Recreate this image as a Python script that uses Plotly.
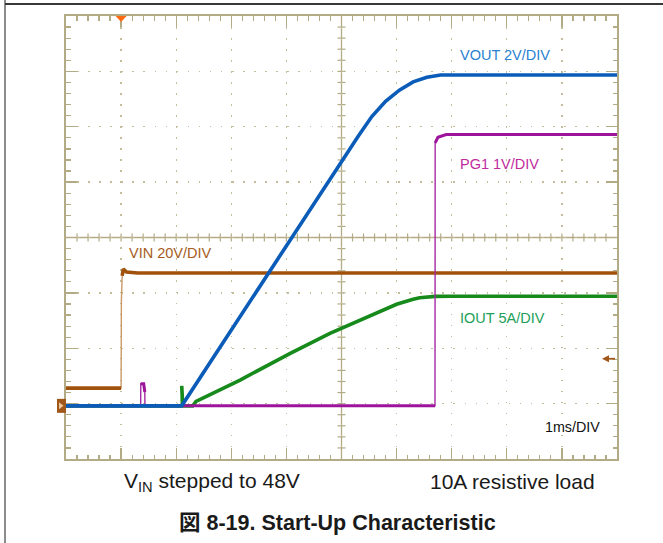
import plotly.graph_objects as go

# ---------------- data (time in ms, 1 ms/DIV) ----------------
ground_div = 0.96          # channel ground reference, in divisions from bottom
trigger_t = 1.0            # trigger position (ms)
trigger_level_v = 17.0     # VIN trigger level (V)

vin_scale = 20.0           # V/DIV
vin_t = [0.0, 1.0, 1.005, 1.02, 1.04, 1.10, 1.30, 10.0]
vin_v = [6.4, 6.4, 38.0, 47.0, 49.4, 48.3, 48.0, 48.0]

iout_scale = 5.0           # A/DIV
iout_t = [0.0, 2.09, 2.10, 2.12, 2.30, 2.36, 3.16, 4.07, 4.79, 5.09, 5.40,
          5.70, 6.00, 6.30, 6.42, 6.70, 7.00, 10.0]
iout_a = [0.0, 0.0, 1.8, 0.0, 0.0, 0.4, 2.33, 4.74, 6.55, 7.21, 7.84,
          8.56, 9.17, 9.62, 9.76, 9.88, 9.90, 9.90]

pg_scale = 1.0             # V/DIV
pg_t = [0.0, 1.355, 1.357, 1.41, 1.43, 1.433, 6.697, 6.70, 6.75, 6.90, 10.0]
pg_v = [0.0, 0.0, 0.40, 0.40, 0.25, 0.0, 0.0, 4.75, 4.85, 4.90, 4.90]

vout_scale = 2.0           # V/DIV
vout_t = [0.0, 2.10, 5.30, 5.55, 5.80, 6.05, 6.30, 6.55, 6.80, 10.0]
vout_v = [0.0, 0.0, 9.73, 10.45, 11.0, 11.4, 11.7, 11.87, 11.95, 11.95]

labels = {
    "vout": "VOUT 2V/DIV",
    "pg": "PG1 1V/DIV",
    "vin": "VIN 20V/DIV",
    "iout": "IOUT 5A/DIV",
    "time": "1ms/DIV",
}
caption_left = "V<sub>IN</sub> stepped to 48V"
caption_right = "10A resistive load"
title_text = "<b>図 8-19. Start-Up Characteristic</b>"

# ---------------- helpers ----------------
W, H = 663, 543
L, R, T, B = 66, 46, 16, 84
PW, PH = W - L - R, H - T - B


def px(X):
    return (X - L) / PW


def py(Y):
    return (H - B - Y) / PH


def to_div(vals, scale):
    return [ground_div + v / scale for v in vals]


def split_steep(x, y, thr=20.0):
    xs, ys = [x[0]], [y[0]]
    for i in range(1, len(x)):
        dx = x[i] - x[i - 1]
        dy = y[i] - y[i - 1]
        if dx == 0 or abs(dy / dx) > thr:
            xs.append(None)
            ys.append(None)
        xs.append(x[i])
        ys.append(y[i])
    return xs, ys


GRID = "#b3ab86"
DOT = "#c4bd9c"
FONT = "Liberation Sans, Arial, Noto Sans CJK JP, sans-serif"

fig = go.Figure()

channels = [
    (vin_t, to_div(vin_v, vin_scale), "#a0520c", "#c99a66", 3.6),
    (iout_t, to_div(iout_a, iout_scale), "#178a1c", "#3aa040", 3.6),
    (pg_t, to_div(pg_v, pg_scale), "#9c139c", "#a52aa5", 3.0),
    (vout_t, to_div(vout_v, vout_scale), "#0b5cb8", "#2f75c5", 3.6),
]
for t, y, col, thin_col, w in channels:
    fig.add_trace(go.Scatter(x=t, y=y, mode="lines",
                             line=dict(color=thin_col, width=1.4),
                             hoverinfo="skip", showlegend=False))
    tx, ty = split_steep(t, y)
    fig.add_trace(go.Scatter(x=tx, y=ty, mode="lines",
                             line=dict(color=col, width=w),
                             connectgaps=False,
                             hoverinfo="skip", showlegend=False))

axis_common = dict(
    showgrid=True, gridcolor=DOT, gridwidth=1.3,
    showline=True, linecolor=GRID, linewidth=1.6, mirror="ticks",
    ticks="inside", ticklen=11, tickwidth=1.3, tickcolor=GRID,
    showticklabels=False, zeroline=False, tick0=0, dtick=1,
)
fig.update_xaxes(range=[0, 10], griddash="1.5px,9.52px",
                 minor=dict(tick0=0, dtick=0.2, ticks="inside", ticklen=4.5,
                            tickwidth=1.2, tickcolor=GRID, showgrid=False),
                 **axis_common)
fig.update_yaxes(range=[0, 8], griddash="1.5px,9.57px",
                 minor=dict(tick0=0, dtick=0.2, ticks="inside", ticklen=4.5,
                            tickwidth=1.2, tickcolor=GRID, showgrid=False),
                 **axis_common)

shapes = []
# center cross
shapes.append(dict(type="line", xref="x", yref="y", x0=5, x1=5, y0=0, y1=8,
                   line=dict(color=GRID, width=1.3), layer="below"))
shapes.append(dict(type="line", xref="x", yref="y", x0=0, x1=10, y0=4, y1=4,
                   line=dict(color=GRID, width=1.3), layer="below"))
for k in range(1, 50):
    if k == 25:
        continue
    shapes.append(dict(type="line", xref="x", yref="y", ysizemode="pixel",
                       yanchor=4, x0=k * 0.2, x1=k * 0.2, y0=-4, y1=4,
                       line=dict(color=GRID, width=1.2), layer="below"))
for k in range(1, 40):
    if k == 20:
        continue
    shapes.append(dict(type="line", xref="x", yref="y", xsizemode="pixel",
                       xanchor=5, y0=k * 0.2, y1=k * 0.2, x0=-4, x1=4,
                       line=dict(color=GRID, width=1.2), layer="below"))

# page frame
shapes.append(dict(type="line", xref="paper", yref="paper",
                   x0=px(5), x1=px(5), y0=py(0), y1=py(H),
                   line=dict(color="#8c8c8c", width=2)))
shapes.append(dict(type="line", xref="paper", yref="paper",
                   x0=px(5), x1=px(W), y0=py(4), y1=py(4),
                   line=dict(color="#383838", width=2)))

# trigger marker (top)
shapes.append(dict(type="path", xref="x", yref="y", xsizemode="pixel",
                   ysizemode="pixel", xanchor=trigger_t, yanchor=8,
                   path="M-5.5,0 L5.5,0 L0,-6 Z",
                   fillcolor="#ff6a13", line=dict(width=0)))
# ground marker (left)
shapes.append(dict(type="rect", xref="paper", yref="y", xsizemode="pixel",
                   ysizemode="pixel", xanchor=0, yanchor=ground_div,
                   x0=-9, x1=0, y0=-7, y1=7,
                   fillcolor="#a0581a", line=dict(width=0)))
shapes.append(dict(type="path", xref="paper", yref="y", xsizemode="pixel",
                   ysizemode="pixel", xanchor=0, yanchor=ground_div,
                   path="M-7,3.5 L-2.5,0 L-7,-3.5 Z",
                   fillcolor="#f2c89a", line=dict(width=0)))
# trigger-level arrow (right edge)
trig_y = ground_div + trigger_level_v / vin_scale
shapes.append(dict(type="line", xref="paper", yref="y", xsizemode="pixel",
                   ysizemode="pixel", xanchor=1, yanchor=trig_y,
                   x0=-10, x1=-2, y0=0, y1=0,
                   line=dict(color="#a0581a", width=1.8)))
shapes.append(dict(type="path", xref="paper", yref="y", xsizemode="pixel",
                   ysizemode="pixel", xanchor=1, yanchor=trig_y,
                   path="M-15,0 L-8,3.5 L-8,-3.5 Z",
                   fillcolor="#a0581a", line=dict(width=0)))

fig.update_layout(shapes=shapes)

ann = []


def txt(X, Y, s, color, size, anchor="left"):
    ann.append(dict(xref="paper", yref="paper", x=px(X), y=py(Y), text=s,
                    showarrow=False, xanchor=anchor, yanchor="middle",
                    font=dict(family=FONT, size=size, color=color)))


txt(458, 55, labels["vout"], "#2a82d0", 14.5)
txt(458, 164, labels["pg"], "#bf2a9e", 14.5)
txt(127, 253, labels["vin"], "#a65c22", 14.5)
txt(458, 318, labels["iout"], "#22a058", 14.5)
txt(543, 427, labels["time"], "#111111", 14.3)
txt(122, 482, caption_left, "#1a1a1a", 21)
txt(428, 482, caption_right, "#1a1a1a", 21)
txt(337.5, 523, title_text, "#1a1a1a", 21.5, anchor="center")

fig.update_layout(
    width=W, height=H,
    margin=dict(l=L, r=R, t=T, b=B, pad=0),
    paper_bgcolor="white", plot_bgcolor="white",
    annotations=ann, showlegend=False,
)

fig.write_html("out.html",
               config={"displayModeBar": False, "staticPlot": True},
               post_script="document.body.style.margin='0px';"
                           "document.body.style.padding='0px';")
